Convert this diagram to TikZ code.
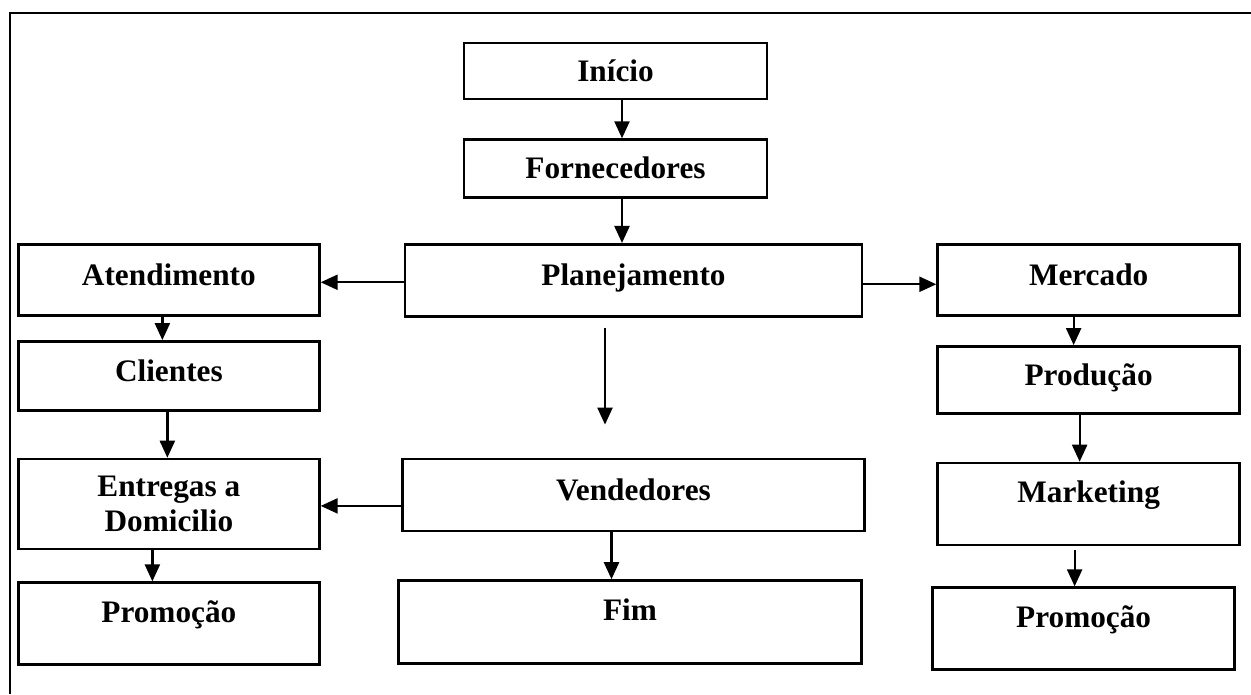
\documentclass[tikz,border=0pt]{standalone}
\usepackage{fontspec}
\setmainfont{Liberation Serif}
\usetikzlibrary{positioning,arrows.meta}

\begin{document}
\begin{tikzpicture}[->,>={Triangle[length=0.34cm,width=0.3cm]},line width=1.3pt,
    box/.style={draw,rectangle,line width=1.5pt,align=center,inner sep=0pt,font=\bfseries\fontsize{17.8}{20}\selectfont},
    mid/.style={text height=0.44cm,text depth=0.22cm},
    hi/.style={text height=0.44cm,text depth=0.5cm},
    lo/.style={text height=0.44cm,text depth=0.03cm}]
    \useasboundingbox (0,0) rectangle (25.02,-13.88);
    \draw [-,line width=1pt] (25.02,-0.26) -- (0.2,-0.26) -- (0.2,-13.88);

    \node [box,lo,minimum width=6.06cm,minimum height=1.12cm] (ini) at (12.31,-1.42) {Início};
    \node [box,lo,minimum width=6.06cm,minimum height=1.16cm,below=0.76cm of ini] (forn) {Fornecedores};
    \node [box,mid,minimum width=9.14cm,minimum height=1.44cm,below=0.88cm of forn,xshift=0.36cm] (plan) {Planejamento};
    \node [box,mid,minimum width=6.02cm,minimum height=1.42cm,left=1.66cm of plan] (aten) {Atendimento};
    \node [box,mid,minimum width=6.04cm,minimum height=1.42cm,right=1.46cm of plan] (merc) {Mercado};
    \node [box,mid,minimum width=6.02cm,minimum height=1.38cm,below=0.46cm of aten] (cli) {Clientes};
    \node [box,minimum width=6.02cm,minimum height=1.8cm,below=0.92cm of cli] (entr) {Entregas a\\Domicilio};
    \node [box,hi,minimum width=6.02cm,minimum height=1.64cm,below=0.62cm of entr] (promL) {Promoção};
    \node [box,mid,minimum width=9.24cm,minimum height=1.44cm,below=2.8cm of plan] (vend) {Vendedores};
    \node [box,hi,minimum width=9.26cm,minimum height=1.66cm,below=0.94cm of vend,xshift=-0.07cm] (fim) {Fim};
    \node [box,mid,minimum width=6.04cm,minimum height=1.34cm,below=0.56cm of merc] (prod) {Produção};
    \node [box,hi,minimum width=6.04cm,minimum height=1.64cm,below=0.94cm of prod] (mark) {Marketing};
    \node [box,hi,minimum width=6.04cm,minimum height=1.64cm,below=0.8cm of mark,xshift=-0.1cm] (promR) {Promoção};

    \coordinate (gapA) at ([xshift=-0.57cm,yshift=-0.2cm]plan.south);
    \coordinate (gapB) at ([xshift=-0.57cm,yshift=-2.14cm]plan.south);

    \path
        ([xshift=0.13cm]ini.south) edge ([xshift=0.13cm]ini.south |- forn.north)
        ([xshift=0.13cm]forn.south) edge ([xshift=0.13cm]forn.south |- plan.north)

        ([yshift=-0.04cm]plan.west) edge ([yshift=-0.04cm]plan.west -| aten.east)
        ([yshift=-0.08cm]plan.east) edge ([yshift=-0.08cm]plan.east -| merc.west)
        (gapA) edge (gapB)

        ([xshift=-0.13cm]aten.south) edge ([xshift=-0.13cm]aten.south |- cli.north)
        ([xshift=-0.03cm]cli.south) edge ([xshift=-0.03cm]cli.south |- entr.north)
        ([xshift=-0.33cm]entr.south) edge ([xshift=-0.33cm]entr.south |- promL.north)

        ([yshift=-0.22cm]vend.west) edge ([yshift=-0.22cm]vend.west -| entr.east)
        ([xshift=-0.44cm]vend.south) edge ([xshift=-0.44cm]vend.south |- fim.north)

        ([xshift=-0.3cm]merc.south) edge ([xshift=-0.3cm]merc.south |- prod.north)
        ([xshift=-0.18cm]prod.south) edge ([xshift=-0.18cm]prod.south |- mark.north)
        ([xshift=-0.28cm,yshift=-0.08cm]mark.south) edge ([xshift=-0.28cm]mark.south |- promR.north)
    ;
\end{tikzpicture}
\end{document}
